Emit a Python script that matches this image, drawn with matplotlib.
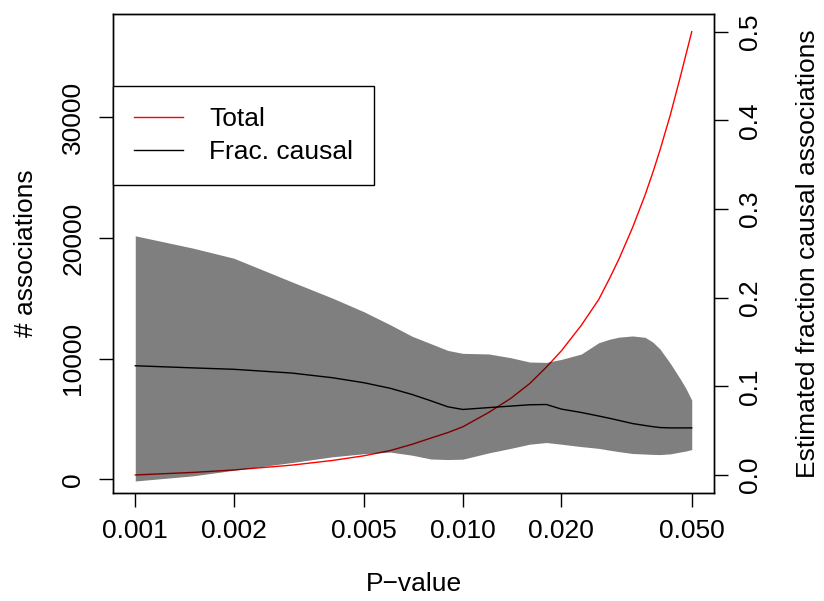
import matplotlib
matplotlib.use("Agg")
import matplotlib.pyplot as plt
from matplotlib.ticker import NullLocator
import numpy as np

plt.rcParams['font.family'] = ['Liberation Sans', 'DejaVu Sans']

# values
p_value = [0.001, 0.0015, 0.002, 0.003, 0.004, 0.005, 0.006, 0.007, 0.008, 0.009,
           0.010, 0.012, 0.014, 0.016, 0.018, 0.020, 0.023, 0.026, 0.028, 0.030,
           0.033, 0.036, 0.038, 0.040, 0.043, 0.046, 0.048, 0.050]
total = [357, 570, 770, 1170, 1560, 1950, 2380, 2900, 3420, 3870,
         4350, 5540, 6700, 7930, 9300, 10650, 12760, 14900, 16600, 18280,
         20880, 23550, 25400, 27290, 30190, 33220, 35200, 37100]
frac_causal = [0.1232, 0.1208, 0.1192, 0.1150, 0.1097, 0.1040, 0.0978, 0.0908, 0.0836, 0.0769,
               0.0739, 0.0760, 0.0777, 0.0792, 0.0795, 0.0743, 0.0705, 0.0665, 0.0640, 0.0615,
               0.0580, 0.0558, 0.0545, 0.0535, 0.0531, 0.0531, 0.0531, 0.0531]
frac_upper = [0.2698, 0.2559, 0.2445, 0.2180, 0.1995, 0.1840, 0.1695, 0.1565, 0.1480, 0.1405,
              0.1372, 0.1365, 0.1323, 0.1274, 0.1270, 0.1304, 0.1364, 0.1492, 0.1530, 0.1555,
              0.1568, 0.1553, 0.1500, 0.1421, 0.1259, 0.1090, 0.0976, 0.0844]
frac_lower = [-0.0068, -0.0010, 0.0053, 0.0140, 0.0205, 0.0240, 0.0258, 0.0223, 0.0180, 0.0174,
              0.0178, 0.0249, 0.0300, 0.0347, 0.0366, 0.0347, 0.0320, 0.0300, 0.0280, 0.0263,
              0.0242, 0.0236, 0.0232, 0.0230, 0.0238, 0.0258, 0.0270, 0.0287]

x_ticks = [0.001, 0.002, 0.005, 0.010, 0.020, 0.050]
x_ticklabels = ["0.001", "0.002", "0.005", "0.010", "0.020", "0.050"]
left_ticks = [0, 10000, 20000, 30000]
right_ticks = [0.0, 0.1, 0.2, 0.3, 0.4, 0.5]

FS = 19
W, H = 824, 601
fig = plt.figure(figsize=(W / 100, H / 100), dpi=100)
ax = fig.add_axes([113 / W, 1 - 492.7 / H, 601 / W, 478.7 / H])


def r_lim(lo, hi):
    # R style 4% padding
    d = (hi - lo) * 0.04
    return lo - d, hi + d


line_total, = ax.plot(p_value, total, color='red', lw=1.0)
ax.set_xscale('log')
lx = r_lim(np.log10(min(p_value)), np.log10(max(p_value)))
ax.set_xlim(10 ** lx[0], 10 ** lx[1])
ax.set_ylim(*r_lim(min(total), max(total)))

ax2 = ax.twinx()
ax2.fill_between(p_value, frac_lower, frac_upper, color='black', alpha=0.5, lw=0)
line_frac, = ax2.plot(p_value, frac_causal, color='black', lw=1.0)
ax2.set_ylim(*r_lim(0, 0.5))

ax.set_xticks(x_ticks)
ax.set_xticklabels(x_ticklabels)
ax.xaxis.set_minor_locator(NullLocator())
ax.set_yticks(left_ticks)
ax.set_yticklabels([str(v) for v in left_ticks])
ax2.set_yticks(right_ticks)
ax2.set_yticklabels(["%.1f" % v for v in right_ticks])

for a in (ax, ax2):
    for s in a.spines.values():
        s.set_linewidth(1.0)
        s.set_color('black')

ax.tick_params(axis='x', direction='out', length=10, width=1.0, labelsize=FS, pad=9)
ax.tick_params(axis='y', direction='out', length=10, width=1.0, labelsize=FS, pad=10, labelrotation=90)
ax2.tick_params(axis='y', direction='out', length=10, width=1.0, labelsize=FS, pad=7, labelrotation=90)
for lab in ax.get_yticklabels():
    lab.set_va('center')
for lab in ax2.get_yticklabels():
    lab.set_va('center')

ax.set_xlabel('P−value', fontsize=FS)
ax.xaxis.set_label_coords(0.5, (492.7 - 584) / 478.7)
ax.xaxis.label.set_va('center')
ax.set_ylabel('# associations', fontsize=FS)
ax.yaxis.set_label_coords((26 - 113) / 601, 0.5)
ax.yaxis.label.set_va('center')
ax2.set_ylabel('Estimated fraction causal associations', fontsize=FS)
ax2.yaxis.set_label_coords((808 - 113) / 601, 0.5)
ax2.yaxis.label.set_va('center')

leg = ax2.legend([line_total, line_frac], ['Total', 'Frac. causal'],
                 loc='upper left', bbox_to_anchor=(0, (492.7 - 86) / 478.7),
                 borderaxespad=0, fontsize=FS, fancybox=False, framealpha=1,
                 edgecolor='black', handlelength=1.85, handletextpad=1.0,
                 borderpad=0.8, labelspacing=0.35)
leg.get_frame().set_linewidth(1.0)

fig.savefig('out.png', dpi=100)
